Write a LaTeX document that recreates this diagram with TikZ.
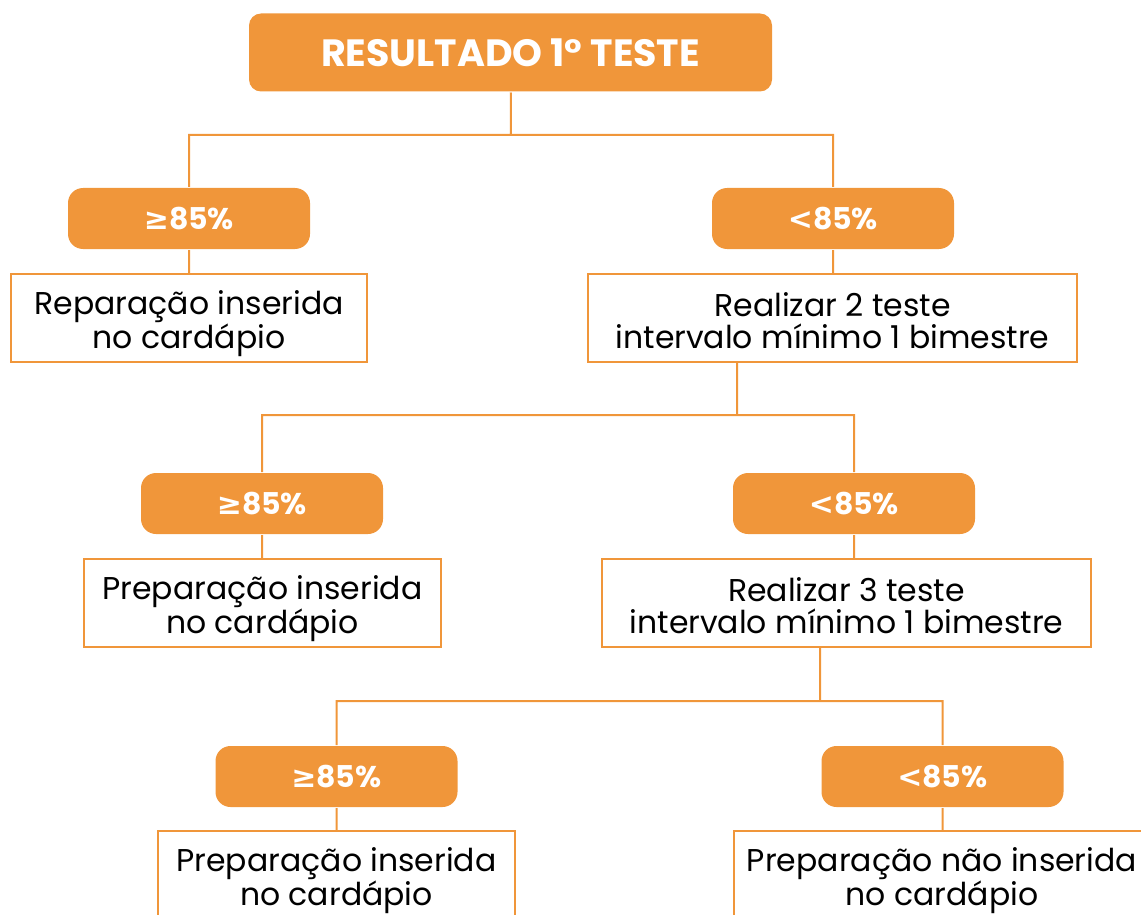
\documentclass[tikz,border=0pt]{standalone}
\usepackage{fontspec}
\setmainfont{Poppins}
\newfontfamily\symfont{DejaVu Sans}
\usetikzlibrary{positioning}
\definecolor{laranja}{RGB}{240,150,58}

\begin{document}
\begin{tikzpicture}[x=1pt,y=-1pt,line width=2pt,
  titulo/.style={fill=laranja,rounded corners=12pt,text=white,font=\fontsize{38}{40}\selectfont\bfseries,minimum width=523pt,minimum height=78pt,inner sep=0pt},
  faixa/.style={fill=laranja,rounded corners=15pt,text=white,font=\fontsize{30}{32}\selectfont\bfseries,minimum width=242pt,minimum height=61pt,inner sep=0pt},
  caixa/.style={draw=laranja,fill=white,align=center,font=\fontsize{31.5}{32}\selectfont,minimum height=88pt,inner sep=0pt,
    text height=67pt,text depth=7pt},
  liga/.style={draw=laranja,line width=2pt}]

\useasboundingbox (0,0) rectangle (1141,915);
\clip (0,0) rectangle (1141,915);

\node[titulo]   (res)   at (510.5,52.5)   {RESULTADO 1° TESTE};

\node[faixa] (ge1) at (189,218.5) {{\symfont ≥}85\%};
\node[faixa] (lt1) at (833,218.5) {{\symfont <}85\%};
\node[caixa,minimum width=356pt] (w1) at (189,318) {Reparação inserida\\no cardápio};
\node[caixa,minimum width=489pt] (w2) at (832.5,318) {Realizar 2 teste\\intervalo mínimo 1 bimestre};

\node[faixa] (ge2) at (262,503.5) {{\symfont ≥}85\%};
\node[faixa] (lt2) at (854,503.5) {{\symfont <}85\%};
\node[caixa,minimum width=357pt] (w3) at (262.5,603) {Preparação inserida\\no cardápio};
\node[caixa,minimum width=489pt] (w4) at (846.5,603) {Realizar 3 teste\\intervalo mínimo 1 bimestre};

\node[faixa] (ge3) at (336.5,776.5) {{\symfont ≥}85\%};
\node[faixa] (lt3) at (942.5,776.5) {{\symfont <}85\%};
\node[caixa,minimum width=357pt] (w5) at (336.5,875) {Preparação inserida\\no cardápio};
\node[caixa,minimum width=416pt] (w6) at (942,875) {Preparação não inserida\\no cardápio};

\coordinate (j1) at (511,135);
\coordinate (j2) at (737,415);
\coordinate (j3) at (820,701);

\path[liga] (res) -- (j1) -| (ge1)
            (j1) -| (lt1)
            (ge1) -- (ge1 |- w1.north)
            (lt1) -- (lt1 |- w2.north)
            (j2 |- w2.south) -- (j2) -| (ge2)
            (j2) -| (lt2)
            (ge2) -- (ge2 |- w3.north)
            (lt2) -- (lt2 |- w4.north)
            (j3 |- w4.south) -- (j3) -| (ge3)
            (j3) -| (lt3)
            (ge3) -- (ge3 |- w5.north)
            (lt3) -- (lt3 |- w6.north);
\end{tikzpicture}
\end{document}
